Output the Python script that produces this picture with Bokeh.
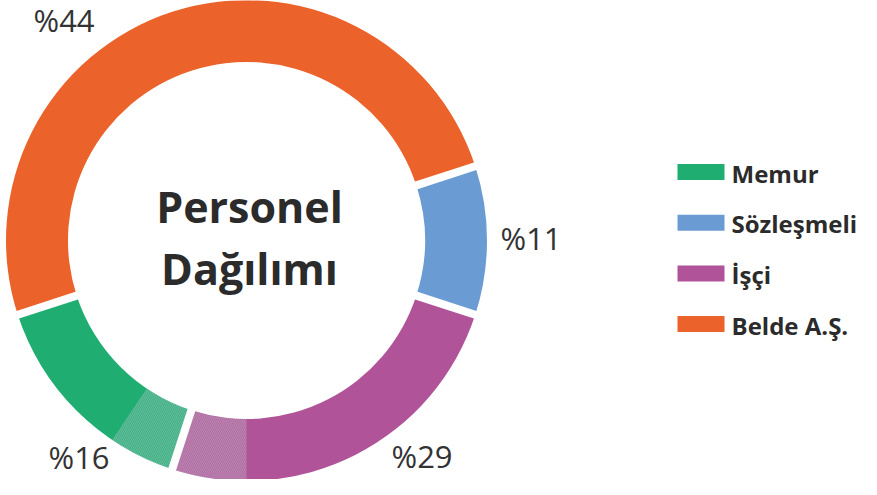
import numpy as np
from bokeh.plotting import figure
from bokeh.models import Range1d
from bokeh.core.properties import value
from bokeh.embed import file_html
from bokeh.resources import INLINE

# ---------------- data ----------------
categories = ["Memur", "Sözleşmeli", "İşçi", "Belde A.Ş."]
arc_shares = [15, 10, 25, 50]          # share of the ring as drawn (percent)
label_texts = ["%16", "%11", "%29", "%44"]
colors = ["#1FAD72", "#6A9BD3", "#B05398", "#EB622A"]
title_lines = ["Personel", "Dağılımı"]

# ---------------- layout ----------------
W, H = 861, 479
OX, OY = 8, 7.5          # shift of the reference layout into the canvas
ASC_CAP = 1.069 - 0.714  # Open Sans: em-box top to cap top (in em)

def sx(x):
    return x - OX

def sy(y):
    return H - (y - OY)

def top_from_cap(cap_top, size):
    return sy(cap_top - ASC_CAP * size)

CX, CY = 254, 247.5
R_OUT, R_IN = 240.5, 178.5
START_DEG = 18.0                # ring starts here and runs clockwise
CLOCKWISE_ORDER = [1, 2, 0, 3]  # Sözleşmeli, İşçi, Memur, Belde A.Ş.
GAP_W = 8
SHADE = (-124.0, -90.0)

LBL_SIZE = 31
label_pos = {  # reference coords: left edge, cap top
    "Memur": (56, 454.5),
    "Sözleşmeli": (508, 235),
    "İşçi": (399, 453.5),
    "Belde A.Ş.": (41, 17),
}
TITLE_SIZE = 43
TITLE_X = 257
TITLE_CAPS = [199, 261.7]
LEG_SIZE = 24
LEG_X0, LEG_Y0, LEG_DY = 685, 179, 50.7
LEG_CAP0 = 172.3
SW_W, SW_H = 47, 16
LEG_TX = 739

p = figure(width=W, height=H, output_backend="svg", toolbar_location=None,
           x_range=Range1d(0, W), y_range=Range1d(0, H),
           x_axis_type=None, y_axis_type=None, min_border=0,
           outline_line_color=None, background_fill_color="white",
           border_fill_color="white")
p.grid.visible = False

# ---- ring slices ----
cursor = START_DEG
starts, ends, cols, bounds = [], [], [], []
for i in CLOCKWISE_ORDER:
    end = cursor
    start = cursor - arc_shares[i] * 3.6
    starts.append(np.deg2rad(start))
    ends.append(np.deg2rad(end))
    cols.append(colors[i])
    bounds.append(end)
    cursor = start

n = len(starts)
p.annular_wedge(x=[sx(CX)] * n, y=[sy(CY)] * n, inner_radius=R_IN, outer_radius=R_OUT,
                start_angle=starts, end_angle=ends, fill_color=cols, line_color=None)

# ---- light striped shading at the bottom ----
p.annular_wedge(x=[sx(CX)], y=[sy(CY)], inner_radius=R_IN, outer_radius=R_OUT,
                start_angle=[np.deg2rad(SHADE[0])], end_angle=[np.deg2rad(SHADE[1])],
                fill_color="#B0BEC4", fill_alpha=0.28, line_color=None,
                hatch_pattern="\\", hatch_color="white", hatch_alpha=0.12,
                hatch_scale=4, hatch_weight=1)

# ---- white gaps between slices ----
b = np.deg2rad(np.array(bounds))
r0, r1 = R_IN - 4, R_OUT + 4
p.segment(x0=sx(CX) + r0 * np.cos(b), y0=sy(CY) + r0 * np.sin(b),
          x1=sx(CX) + r1 * np.cos(b), y1=sy(CY) + r1 * np.sin(b),
          line_color="white", line_width=GAP_W, line_cap="butt")

# ---- percentage labels ----
lx = [sx(label_pos[c][0]) for c in categories]
ly = [top_from_cap(label_pos[c][1], LBL_SIZE) for c in categories]
p.text(x=lx, y=ly, text=label_texts, text_font=value("Open Sans"),
       text_font_size=f"{LBL_SIZE}px", text_color="#333333",
       text_align="left", text_baseline="top")

# ---- centre title ----
p.text(x=[sx(TITLE_X)] * 2, y=[top_from_cap(c, TITLE_SIZE) for c in TITLE_CAPS],
       text=title_lines, text_font=value("Open Sans"), text_font_style="bold",
       text_font_size=f"{TITLE_SIZE}px", text_color="#2B2B2B",
       text_align="center", text_baseline="top")

# ---- legend ----
k = np.arange(len(categories))
p.rect(x=[sx(LEG_X0 + SW_W / 2)] * len(categories), y=[sy(LEG_Y0 + j * LEG_DY) for j in k],
       width=SW_W, height=SW_H, fill_color=colors, line_color=None)
p.text(x=[sx(LEG_TX)] * len(categories),
       y=[top_from_cap(LEG_CAP0 + j * LEG_DY, LEG_SIZE) for j in k], text=categories,
       text_font=value("Open Sans"), text_font_style="bold",
       text_font_size=f"{LEG_SIZE}px", text_color="#2B2B2B",
       text_align="left", text_baseline="top")

open("out.html", "w").write(file_html(p, INLINE))
